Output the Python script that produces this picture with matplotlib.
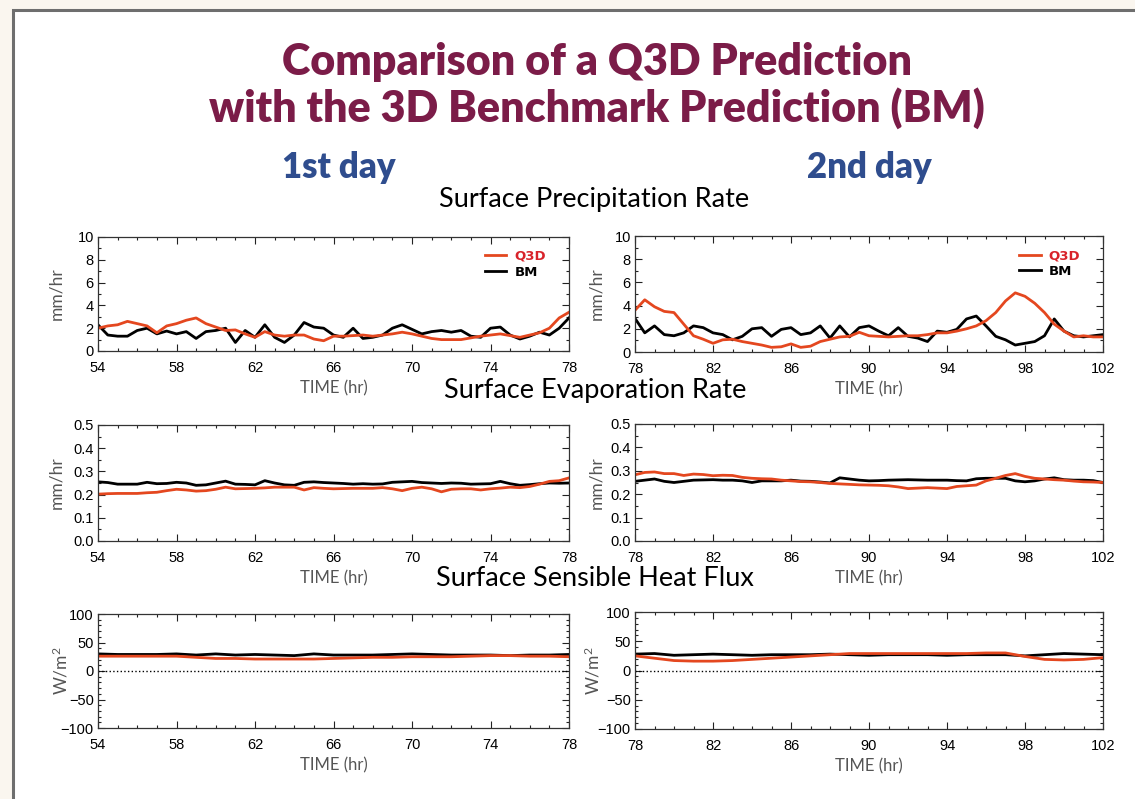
import matplotlib.pyplot as plt
import numpy as np
from matplotlib.patches import Rectangle
from matplotlib.lines import Line2D
from matplotlib.ticker import MultipleLocator, FormatStrFormatter

# time grids (hr)
time_day1 = np.arange(54, 78.01, 0.5)
time_day2 = np.arange(78, 102.01, 0.5)
time_flux_day1 = np.arange(54, 78.01, 1.0)
time_flux_day2 = np.arange(78, 102.01, 1.0)

# surface precipitation rate (mm/hr)
precip_q3d_day1 = [2.0, 2.2, 2.3, 2.6, 2.4, 2.2, 1.6, 2.2, 2.4, 2.7, 2.9, 2.4, 2.1,
                   1.8, 1.85, 1.5, 1.2, 1.7, 1.4, 1.3, 1.4, 1.4, 1.05, 0.9, 1.3, 1.3,
                   1.35, 1.4, 1.3, 1.4, 1.5, 1.65, 1.5, 1.3, 1.1, 1.0, 1.0, 1.0, 1.15,
                   1.3, 1.4, 1.5, 1.35, 1.2, 1.4, 1.6, 2.0, 2.9, 3.4]
precip_bm_day1 = [2.3, 1.4, 1.3, 1.3, 1.8, 2.0, 1.5, 1.75, 1.5, 1.7, 1.1, 1.7, 1.8,
                  2.0, 0.75, 1.8, 1.2, 2.3, 1.2, 0.75, 1.4, 2.5, 2.1, 2.0, 1.4, 1.2,
                  2.0, 1.1, 1.2, 1.4, 2.0, 2.3, 1.9, 1.5, 1.7, 1.8, 1.65, 1.8, 1.3,
                  1.2, 2.0, 2.1, 1.4, 1.05, 1.3, 1.65, 1.4, 2.0, 2.9]
precip_q3d_day2 = [3.6, 4.5, 3.9, 3.5, 3.4, 2.4, 1.4, 1.1, 0.75, 1.05, 1.1, 0.9, 0.75,
                   0.6, 0.4, 0.45, 0.7, 0.4, 0.5, 0.9, 1.1, 1.3, 1.35, 1.7, 1.4, 1.35,
                   1.3, 1.35, 1.4, 1.4, 1.5, 1.65, 1.65, 1.8, 2.0, 2.25, 2.7, 3.4, 4.4,
                   5.1, 4.8, 4.2, 3.4, 2.4, 1.8, 1.3, 1.4, 1.3, 1.3]
precip_bm_day2 = [2.9, 1.65, 2.25, 1.5, 1.4, 1.65, 2.25, 2.1, 1.65, 1.5, 1.05, 1.35, 2.0,
                  2.1, 1.35, 1.95, 2.1, 1.5, 1.65, 2.25, 1.2, 2.25, 1.3, 2.1, 2.25, 1.8,
                  1.4, 2.1, 1.35, 1.2, 0.9, 1.8, 1.7, 1.95, 2.85, 3.1, 2.25, 1.35, 1.05,
                  0.6, 0.75, 0.9, 1.4, 2.85, 1.8, 1.4, 1.3, 1.4, 1.5]

# surface evaporation rate (mm/hr)
evap_q3d_day1 = [0.202, 0.204, 0.205, 0.205, 0.205, 0.208, 0.21, 0.217, 0.223, 0.22,
                 0.215, 0.217, 0.223, 0.232, 0.225, 0.226, 0.227, 0.229, 0.232, 0.232,
                 0.232, 0.22, 0.23, 0.227, 0.225, 0.226, 0.227, 0.227, 0.227, 0.23,
                 0.225, 0.217, 0.227, 0.232, 0.225, 0.212, 0.223, 0.225, 0.225, 0.22,
                 0.225, 0.228, 0.232, 0.23, 0.235, 0.245, 0.257, 0.26, 0.272]
evap_bm_day1 = [0.255, 0.252, 0.245, 0.245, 0.245, 0.253, 0.247, 0.248, 0.253, 0.25,
                0.24, 0.242, 0.25, 0.258, 0.245, 0.244, 0.242, 0.26, 0.25, 0.242,
                0.24, 0.253, 0.255, 0.252, 0.25, 0.248, 0.245, 0.247, 0.245, 0.246,
                0.253, 0.255, 0.257, 0.252, 0.25, 0.248, 0.25, 0.249, 0.245, 0.246,
                0.247, 0.257, 0.247, 0.24, 0.243, 0.247, 0.25, 0.249, 0.25]
evap_q3d_day2 = [0.283, 0.293, 0.295, 0.288, 0.288, 0.28, 0.286, 0.284, 0.279, 0.281,
                 0.28, 0.272, 0.268, 0.266, 0.265, 0.26, 0.257, 0.254, 0.253, 0.25,
                 0.246, 0.244, 0.242, 0.24, 0.239, 0.238, 0.236, 0.231, 0.224, 0.226,
                 0.228, 0.226, 0.224, 0.233, 0.236, 0.239, 0.257, 0.268, 0.28, 0.288,
                 0.276, 0.268, 0.265, 0.262, 0.26, 0.256, 0.253, 0.252, 0.25]
evap_bm_day2 = [0.255, 0.26, 0.265, 0.255, 0.25, 0.255, 0.26, 0.261, 0.262, 0.26,
                0.26, 0.257, 0.25, 0.257, 0.257, 0.257, 0.26, 0.256, 0.255, 0.252,
                0.248, 0.27, 0.265, 0.26, 0.257, 0.258, 0.26, 0.261, 0.262, 0.261,
                0.26, 0.26, 0.26, 0.258, 0.257, 0.266, 0.268, 0.268, 0.268, 0.257,
                0.253, 0.257, 0.265, 0.27, 0.262, 0.26, 0.26, 0.258, 0.25]

# surface sensible heat flux (W/m2)
flux_q3d_day1 = [26, 26, 26, 26, 26, 24, 22, 22, 21, 21, 21, 21, 22, 23, 24, 24, 25,
                 25, 25, 26, 27, 27, 26, 26, 25]
flux_bm_day1 = [30, 29, 29, 29, 30, 28, 30, 28, 29, 28, 27, 30, 28, 28, 28, 29, 30,
                29, 28, 28, 28, 27, 28, 28, 29]
flux_q3d_day2 = [25, 21, 17, 16, 16, 17, 19, 21, 23, 25, 27, 29, 29, 29, 29, 29, 29,
                 29, 30, 30, 24, 19, 18, 19, 22]
flux_bm_day2 = [28, 29, 26, 27, 28, 27, 26, 27, 27, 27, 28, 27, 26, 27, 27, 27, 26,
                27, 27, 27, 25, 27, 29, 28, 27]

W, H = 1135, 799
RED = '#e4471f'
GRAY_TXT = '#555555'
FONT = ['Lato', 'DejaVu Sans']
TICKFONT = ['Liberation Sans', 'DejaVu Sans']

plt.rcParams['mathtext.fontset'] = 'custom'
plt.rcParams['mathtext.rm'] = 'Lato'
plt.rcParams['mathtext.default'] = 'regular'


def rect(x0, y0, x1, y1):
    return [x0 / W, 1 - y1 / H, (x1 - x0) / W, (y1 - y0) / H]


def style(ax, t0, ylim, ymaj, ymin, ylabel, fmt=None, label_off=34):
    ax.set_xlim(t0, t0 + 24)
    ax.set_ylim(*ylim)
    ax.set_xticks(np.arange(t0, t0 + 25, 4))
    ax.xaxis.set_minor_locator(MultipleLocator(1))
    ax.yaxis.set_major_locator(MultipleLocator(ymaj))
    ax.yaxis.set_minor_locator(MultipleLocator(ymin))
    if fmt:
        ax.yaxis.set_major_formatter(FormatStrFormatter(fmt))
    ax.tick_params(which='both', direction='in', top=True, right=True, color='#222222')
    ax.tick_params(which='major', length=5, width=0.8, labelsize=10.5)
    ax.tick_params(axis='x', which='major', pad=7)
    ax.tick_params(axis='y', which='major', pad=3)
    ax.tick_params(which='minor', length=2.5, width=0.8)
    for lab in ax.get_xticklabels() + ax.get_yticklabels():
        lab.set_fontfamily(TICKFONT)
    for sp in ax.spines.values():
        sp.set_linewidth(0.9)
        sp.set_color('#333333')
    ax.set_xlabel('TIME (hr)', color=GRAY_TXT, fontsize=12, family=FONT, labelpad=4)
    ax.set_ylabel(ylabel, color=GRAY_TXT, fontsize=12.5, family=FONT)
    width_px = ax.get_position().width * W
    ax.yaxis.set_label_coords(-label_off / width_px, 0.5)


fig = plt.figure(figsize=(W / 100, H / 100), dpi=100, facecolor='#faf6ef')
fig.add_artist(Rectangle((13 / W, -0.2), 1.2, 1.2 - 10 / H, transform=fig.transFigure,
                         facecolor='white', edgecolor='#6e6e6e', linewidth=2.2, zorder=0))

title_kw = dict(ha='center', va='center', color='#7b1c48', fontsize=31,
                fontweight='heavy', family=FONT)
fig.text(597 / W, 1 - 62 / H, 'Comparison of a Q3D Prediction', **title_kw)
fig.text(597 / W, 1 - 108 / H, 'with the 3D Benchmark Prediction (BM)', **title_kw)
day_kw = dict(ha='center', va='center', color='#2f4d8e', fontsize=25,
              fontweight='heavy', family=FONT)
fig.text(339 / W, 1 - 168 / H, '1st day', **day_kw)
fig.text(869 / W, 1 - 168 / H, '2nd day', **day_kw)
sec_kw = dict(ha='center', va='center', color='black', fontsize=19.5, family=FONT)
fig.text(594 / W, 1 - 200 / H, 'Surface Precipitation Rate', **sec_kw)
fig.text(595 / W, 1 - 391 / H, 'Surface Evaporation Rate', **sec_kw)
fig.text(595 / W, 1 - 578 / H, 'Surface Sensible Heat Flux', **sec_kw)

panels = [
    (rect(98, 237, 569, 351), 54, time_day1, precip_q3d_day1, precip_bm_day1,
     (0, 10), 2, 1, 'mm/hr', None, 34),
    (rect(635, 236, 1103, 352), 78, time_day2, precip_q3d_day2, precip_bm_day2,
     (0, 10), 2, 1, 'mm/hr', None, 31),
    (rect(98, 425, 569, 541), 54, time_day1, evap_q3d_day1, evap_bm_day1,
     (0, 0.5), 0.1, 0.05, 'mm/hr', '%.1f', 34),
    (rect(635, 424, 1103, 541), 78, time_day2, evap_q3d_day2, evap_bm_day2,
     (0, 0.5), 0.1, 0.05, 'mm/hr', '%.1f', 31),
    (rect(98, 614, 569, 728), 54, time_flux_day1, flux_q3d_day1, flux_bm_day1,
     (-100, 100), 50, 10, 'W/m$^2$', None, 28),
    (rect(635, 612, 1103, 729), 78, time_flux_day2, flux_q3d_day2, flux_bm_day2,
     (-100, 100), 50, 10, 'W/m$^2$', None, 32),
]

for i, (pos, t0, t, q3d, bm, ylim, ymaj, ymin, ylabel, fmt, off) in enumerate(panels):
    ax = fig.add_axes(pos)
    ax.plot(t, bm, color='black', lw=2)
    ax.plot(t, q3d, color=RED, lw=2)
    if ylim[0] < 0:
        ax.axhline(0, color='black', lw=1, ls=':')
    style(ax, t0, ylim, ymaj, ymin, ylabel, fmt, off)
    if i < 2:
        handles = [Line2D([], [], color=RED, lw=2), Line2D([], [], color='black', lw=2)]
        ax.legend(handles, ['Q3D', 'BM'], loc='upper right', frameon=False,
                  bbox_to_anchor=(0.951, 0.886), borderaxespad=0, borderpad=0,
                  handlelength=1.6, handletextpad=0.6, labelspacing=0.2,
                  labelcolor=['#d8232a', 'black'],
                  prop={'family': ['DejaVu Sans'], 'weight': 'bold', 'size': 9.5})

fig.savefig('out.png', dpi=100, facecolor=fig.get_facecolor())
